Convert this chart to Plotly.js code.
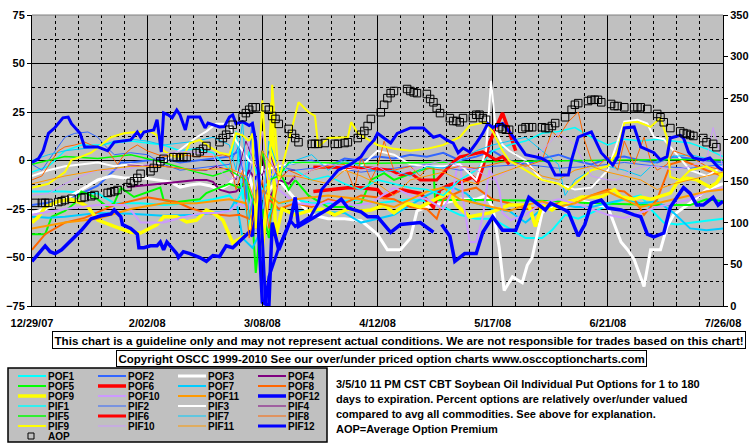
<!DOCTYPE html>
<html><head><meta charset="utf-8">
<script src="https://cdn.plot.ly/plotly-3.0.1.min.js"></script>
<style>html,body{margin:0;padding:0;background:#fff;}#chart{width:755px;height:446px;}</style>
</head><body><div id="chart"></div>
<script>
// ---------- DATA (day offset from 12/29/07, value) ----------
const startDate = [2007, 11, 29];
const xTickDays = [0, 35, 70, 105, 140, 175, 210];
const xTickLabels = ['12/29/07', '2/02/08', '3/08/08', '4/12/08', '5/17/08', '6/21/08', '7/26/08'];
const leftTicks = [-75, -50, -25, 0, 25, 50, 75];
const rightTicks = [0, 50, 100, 150, 200, 250, 300, 350];

const POF1 = [[0,-16],[10,-16],[20,-17],[25,-22],[33,-22],[40,-23],[48,-22],[55,-20],[60,-18],[62,-22],[64,-15],[66,-35],[68,-10],[70,-30],[72,-20],[76,-22],[80,-20],[85,-22],[90,-22],[95,-21],[100,-20],[105,-22],[110,-21],[115,-20],[120,-21],[125,-24],[130,-28],[135,-30],[140,-30],[145,-35],[150,-40],[155,-40],[158,-36],[162,-28],[166,-30],[170,-27],[175,-23],[180,-20],[185,-18],[188,-25],[192,-32],[196,-33],[200,-32],[205,-31],[210,-30]];
const POF2 = [[0,-23],[8,-21],[15,-17],[20,-13],[25,-5],[27,-1],[30,-1],[35,0],[40,1],[45,-1],[50,0],[55,1],[60,2],[63,5],[65,-20],[67,20],[70,-30],[73,-5],[78,-2],[85,0],[90,-3],[95,1],[100,0],[105,2],[110,1],[115,3],[120,2],[125,4],[130,0],[135,2],[140,5],[145,0],[150,-2],[155,1],[160,3],[165,0],[170,-2],[175,1],[180,2],[185,0],[190,-1],[195,2],[200,1],[205,0],[210,-1]];
const POF3 = [[0,-27],[4,-25],[8,-22],[12,-18],[16,-14],[20,-10],[24,-8],[28,-9],[34,-9],[38,-10],[42,-11],[45,-13.7],[48,-12.6],[51,-12],[54,-13],[57,-15],[60,-12],[63,-5],[66,-8],[68,-20],[70,-3],[72,-15],[75,-10],[80,-20],[85,-28],[90,-30],[95,-30],[100,-31],[105,-38],[108,-46],[112,-46],[115,-40],[117,-26],[120,-24],[125,-22],[130,-20],[135,-20],[138,-18],[140,-24],[142,-45],[143.5,-67],[146,-60],[149,-63],[150.5,-54],[152,-50],[155,-27],[157,-24],[162,-24],[165,-20],[170,-22],[175,-24],[179,-42],[181,-46],[183,-51],[186,-65],[188,-46],[191,-46],[193,-34],[195,-28],[200,-22],[205,-15],[210,-12]];
const POF4 = [[29,-13.7],[36,-12.6],[42,-11.5],[50,-10],[53,-10],[55,-11],[57,-15],[60,-16.5],[62,-16],[64,-13],[66,-5],[68,-10],[70,5],[72,-20],[75,-10],[78,-12],[80,-8]];
const POF5 = [[0,-38],[4,-38],[6,-29],[10,-26],[13,-22],[15,-16],[19,-18.8],[23,-24],[25,-22],[27,-14],[31,-18.8],[39,-14],[40,-20.4],[44,-21.4],[51,-20],[53,-16.8],[57,-14],[60,-12],[63,-14],[65,-11],[67,-30],[68,-58],[70,-25],[72,-40],[73,-20],[75,-5],[78,-15],[80,-10],[84,-18],[90,-24],[96,-24],[100,-22],[103,-10],[107,-6.5],[110,-10],[118,-5],[122,-3.4],[122.5,-20.4],[140,-20.4],[160,-21],[170,-22],[180,-22.5],[190,-23],[200,-23],[205,-20],[210,-21]];
const POF6 = [[85.5,-16],[90,-15],[96,-14],[100,-14],[105,-15],[107,-19],[112,-15],[118,-17],[122,-24],[124,-15],[127,-12.6],[132,-10],[134,-8.5],[135.5,-11],[137,-3.4],[139,9],[142,21],[143,24.5],[145,15],[147,5]];
const POF7 = [[0,-29],[5,-29.5],[10,-29],[15,-28],[20,-27],[30,-27.5],[40,-28.5],[50,-28],[55,-27],[60,-26],[62,-20],[64,-40],[67,-45],[70,-35],[73,-25],[78,-26],[85,-26],[95,-27],[100,-32],[105,-30],[110,-28],[115,-23],[120,-18],[125,-14],[128,-14],[132,-17],[135,-22],[140,-25],[145,-26],[150,-32],[155,-25],[160,-22],[165,-24],[170,-24],[175,-22],[180,-20],[185,-22],[190,-21],[195,-27],[200,-35],[205,-36],[210,-35]];
const POF8 = [[0,-46],[4,-38],[10,-32],[16,-29.6],[25,-23],[29,-21.4],[32,-20.4],[35,-19],[40,-20.4],[44,-21.4],[48,-24.5],[53,-27],[57,-28],[60,-28.5],[63,-28],[66,-30],[68,-15],[70,-45],[72,-20],[75,-25],[80,-22],[85,-24],[90,-20],[95,-22],[100,-18],[105,-19],[110,-20],[115,-24],[120,-25],[123,-30],[125,-20],[130,-16],[135,-14],[140,-20],[145,-22],[150,-25],[155,-24],[160,-22],[165,-20],[170,-18],[175,-15],[180,-16],[183,-20],[186,-28],[190,-20],[194,-2],[198,0],[205,-5],[210,-8]];
const POF9 = [[0,-32],[2,-29],[4,-24],[8,-21],[12,-20],[15,-22],[17,-24],[20,-30.7],[25,-34],[30,-37],[33,-37.4],[38,-33],[40,-29],[44,-29],[47,-31.7],[50,-30.7],[53,-25.5],[55,-27],[58,-30.7],[61,-42.5],[64,-39.4],[66,-37.4],[68,-20],[70,-45],[72,-10],[73,30],[74,-40],[76,-25],[80,-28],[84,-26],[88,-25],[92,-28],[96,-25],[100,-26],[103,-25.5],[107,-23],[110,-27],[114,-22],[118,-24],[122,-20.4],[127,-16.2],[129,-23],[133,-29],[139,-27],[145,-23],[151,-23],[153,-34],[155,-23],[158,-25.5],[161,-22],[165,-20.4],[167,-18.8],[173,-18.8],[177,-15],[179,-18.8],[183,-20],[185,-18.8],[188,-20],[194,-16.8],[196,-11.6],[199,-9],[202,-10],[206,-13.7],[208,-11.6],[210,-6.4]];
const POF10 = [[0,-28],[10,-25],[20,-23],[28,-23],[30,-25.5],[33,-32],[40,-32],[45,-29.6],[52,-27],[56,-27],[60,-26],[63,-22],[66,-25],[68,-8],[70,-20],[72,5],[75,-15],[80,-22],[87,-23],[90,-21],[98,-23],[103,-22],[110,-14],[115,-18],[120,-20],[125,-25],[128,-15],[130,5],[131,-20],[133,-42],[135,-42],[137,-29],[139,-5],[141,-10],[142,-15],[143,-27],[145.5,-30.7],[150,-28],[155,-22],[160,-20],[165,-22],[170,-25],[175,-28],[180,-29.6],[185,-27],[190,-24],[195,-22],[200,-20],[205,-16],[210,-14]];
const POF11 = [[0,-35],[10,-32],[20,-30],[30,-25],[40,-22],[50,-22],[60,-20],[65,-22],[68,-35],[70,-15],[75,-22],[80,-20],[90,-18],[100,-20],[105,-22],[110,-24],[115,-20],[120,-16],[125,-14],[130,-20],[135,-22],[140,-24],[145,-26],[150,-23],[155,-21],[160,-24],[165,-22],[170,-18],[175,-16],[180,-20],[185,-24],[190,-22],[195,-20],[200,-18],[205,-16],[210,-15]];
const POF12 = [[0,-52],[1,-50],[4,-44],[5.5,-47],[7,-48],[9,-46],[12,-41],[15,-36],[18,-30],[21,-28.5],[24,-27.5],[25,-25.5],[27,-29],[27.5,-33],[30,-35],[32,-38],[32.5,-45],[34,-45],[36,-44],[38,-44],[39,-42],[40,-46],[41,-42],[44,-48],[44.5,-50],[46,-47],[48,-48],[51,-50],[53,-52],[55,-49],[57,-49.5],[59,-44],[61,-45],[66,-37],[67,-39],[68,-8],[69,-40],[70,-73],[72,-75],[73,-32],[75,-46],[78.5,-31],[80,-19],[81,-34],[85,-30],[90,-25],[94,-20],[96,-24.5],[100,-26.5],[102,-29],[105,-29],[109,-37],[112,-33],[118,-32],[122,-37],[123,null],[124.5,-33],[127,-39],[128.5,-52],[131.5,-48],[135,-48],[137,-37],[140,-29],[143,-36],[147,-36],[151,-19],[156,-25.5],[157.6,-22],[162,-25.5],[163,-26.5],[166,-39],[168,-33],[170,-22],[173,-20.4],[175,-24.5],[179,-25.5],[183,-28],[185,-29],[187,-38],[189,-39.4],[192,-37.4],[194,-24],[198,-14],[200,-17],[202,-23],[204,-23],[207,-19],[208.5,-23],[210,-21]];

const PIF1 = [[0,-6],[5,-3],[10,5],[15,8],[20,8],[25,9],[30,10],[35,9],[40,8],[45,5],[50,6],[55,4],[60,-5],[62,15],[64,-20],[66,5],[70,-15],[75,-5],[80,-5],[85,-10],[90,-8],[95,-12],[100,-15],[105,-10],[110,-12],[115,-14],[120,-15],[125,-18],[130,-10],[135,-5],[140,5],[145,8],[150,10],[155,14],[160,15],[165,17],[170,12],[175,8],[180,11],[185,10],[190,11],[195,10],[200,9],[205,6],[210,2]];
const PIF2 = [[0,-2],[3,-5],[5,0],[8,7],[10,12],[13,14],[17,14.7],[20,12],[22,8],[25,3],[30,4],[35,3],[40,-2],[45,-5],[50,-4],[55,-3],[60,-2],[63,8],[65,-15],[68,5],[70,-20],[75,-3],[80,-5],[90,-3],[100,-6],[110,-4],[120,-2],[130,-5],[140,-3],[150,-2],[160,-4],[170,-3],[180,-1],[190,-3],[200,-4],[210,-2]];
const PIF3 = [[0,-8],[5,-5],[10,-3],[15,-2],[20,-1],[25,-3],[30,-2],[35,-3],[40,-1],[43,3],[47,8],[50,12],[53,15],[56,19],[60,19],[62,10],[66,0],[70,-5],[75,-3],[80,-1],[85,-1],[90,-2],[95,-5],[100,-3],[105,5],[110,3],[115,-2],[120,-3],[125,-3],[130,-2],[135,-10],[138,5],[139.5,41],[141,15],[143,8],[145,5],[150,0],[155,-10],[160,-12],[165,-15],[170,-14],[175,-5],[180,20],[184,21],[187,19],[189,12],[192,11],[195,5],[200,-5],[205,-8],[210,-3]];
const PIF4 = [[29,-2.3],[40,-3],[50,-5],[53,-5],[56,-3],[60,-5],[62,-10],[65,10],[68,-3],[70,-8],[72,5],[75,-10],[78,-5],[80,-5]];
const PIF5 = [[0,-2],[10,2],[20,1],[30,3],[40,-1],[50,-6],[55,-8],[60,-5],[65,-10],[68,-25],[70,5],[72,-10],[75,-8],[78,-1],[85,-1],[100,-1.5],[120,-1],[140,-0.5],[160,0],[180,0.3],[200,0.5],[210,0.3]];
const PIF6 = [[85.5,-3.4],[96,-3.9],[103,-3.9],[109,-5],[112,-7.5],[115,-6.5],[118,-10],[123,-10],[128,-0.8],[130,1.8],[137,4.4],[141,0.3],[143,2],[145,-2]];
const PIF7 = [[0,0],[5,3],[10,5],[15,6],[20,7],[25,10],[30,11],[35,10],[40,8],[45,9],[50,10],[55,12],[60,8],[62,-5],[64,20],[66,-30],[68,-10],[70,-25],[72,10],[75,-5],[80,0],[85,3],[90,-5],[95,0],[100,-3],[105,-6],[110,-5],[115,-8],[120,-3],[125,-4],[130,0],[135,5],[140,8],[145,10],[150,12],[155,5],[160,-2],[162,-18],[165,-10],[170,-5],[175,-3],[180,-5],[185,-8],[190,0],[195,2],[200,3],[205,1],[210,-3]];
const PIF8 = [[0,-10],[3,-8],[6,0],[8,5],[10,7],[13,8],[16,9.5],[18,8],[20,7],[23,5],[26,-2],[28,3],[30,6],[32,8],[35,5],[38,3],[40,2],[45,3],[50,2],[55,2],[58,3],[60,2],[62,-15],[64,-5],[66,-40],[68,-25],[70,-10],[72,-35],[75,-10],[78,-5],[82,-8],[85,-5],[90,-3],[95,-2],[98,-15],[100,2],[103,-10],[105,-3],[107,10],[110,-5],[115,-3],[118,-8],[120,-4],[125,-5],[130,-3],[135,-4],[140,-2],[145,0],[150,-3],[155,0],[158,15],[160,12],[163,20],[166,25],[168,10],[170,0],[172,-3],[175,2],[178,-5],[180,10],[183,-2],[186,12],[188,0],[190,-5],[193,-2],[195,5],[200,2],[205,-3],[210,-5]];
const PIF9 = [[0,-14],[5,-12],[10,-6],[12,0.3],[15,2],[18,4],[21,8],[24,12],[28,14],[32,14.7],[36,15],[38,13],[40,5],[43,2],[46,2],[48,9],[51,10.6],[54,7],[57,4],[60,3],[62,14],[64,13],[66,10],[67,14],[68,-35],[70,31],[72,-20],[73,39],[75,-10],[81,30],[84,25],[86,23],[87,7],[90,11.6],[96,12],[97,19.8],[99,14],[105,8],[110,6],[115,5],[120,6],[125,8],[130,12],[133,18],[138,19.8],[140,15],[143,5],[145,0],[150,-5],[155,-10],[160,-12],[163,-15],[165,-12],[170,-5],[175,-3],[178,5],[180,19.3],[184,20],[188,17.3],[191,22],[193,11.6],[194,-8.5],[197,-10],[200,-5],[205,-3],[210,-8]];
const PIF10 = [[0,-18],[5,-17],[10,-12],[15,-8],[20,-5],[25,-5],[30,-4],[35,-2],[40,3],[45,5],[50,4],[55,3],[57,-5],[60,-10],[63,-8],[66,10],[68,-15],[70,15],[72,-10],[75,0],[80,-10],[85,-5],[90,-2],[95,-3],[100,-5],[105,-3],[110,-8],[115,-5],[120,-2],[125,0],[130,-3],[135,-5],[140,-10],[145,-5],[150,0],[155,5],[160,14],[165,8],[170,-8],[175,-10],[178,-10],[182,-5],[186,-3],[190,-3],[195,-5],[200,-3],[205,0],[207,17],[209,5],[210,-5]];
const PIF11 = [[0,-12],[10,-8],[20,-5],[30,-3],[40,-3],[50,-5],[60,-4],[65,-8],[68,-22],[70,5],[75,-8],[80,-8],[85,-10],[90,-12],[95,-5],[100,-8],[105,-12],[110,-18],[115,-10],[120,-8],[125,-6],[130,-10],[135,-12],[140,-8],[145,-5],[150,-2],[155,-8],[160,-10],[165,-5],[170,-3],[175,-6],[180,-8],[185,-10],[190,-15],[195,-12],[200,-10],[205,-8],[210,-6]];
const PIF12 = [[0,-1],[2,1],[3.4,5],[5,14],[7,17],[9.4,22],[11,22.4],[12,19],[14.6,14],[16,7],[20,7],[21,6.4],[23,5],[25,9.5],[30,10.6],[32,14.7],[33,12],[34,14.7],[37,15.7],[38,21],[38.5,14.7],[39.3,4.4],[40,24.5],[41.4,23.5],[42.6,22],[44,26],[45,23.5],[46.6,15.7],[47.5,22.4],[51,22.4],[52.6,16.8],[53.5,19.3],[57,17.3],[58.5,17.5],[60,22.4],[61,23.5],[62,19],[64,20],[66,18],[67,19],[68,10],[69,-10],[70,-40],[71,-74],[72,-60],[75,-45],[78.5,-31],[80,-34],[84.6,-29],[87,-22],[88,-15],[91,-9],[93,-5],[96.8,-2],[100,2],[102,7],[104,10.6],[105,14],[109,9],[111,14],[115,16.8],[119,16.8],[122,12],[124,13],[126,10.6],[128,9],[129.5,4],[131,6.4],[133,4.4],[135,9],[137,14],[138.5,19],[140,17],[143,19],[145.5,14],[150,3],[154.6,1.3],[157,-0.8],[159,-7.5],[163,-7.5],[164,0.3],[166,12],[170,14.7],[173,4],[176.5,-2.3],[178,1.8],[180,16.8],[183,17.3],[185,7],[189,4],[191,0.3],[193,2],[194,11.6],[197,13],[198,11.6],[199.5,4.4],[201,1.3],[204,0.3],[206,1.3],[208.5,-3.4],[210,-5]];

const AOP = [[1,124],[3,124],[4,124],[5,124],[8,125],[9,126],[10,127.5],[12,129],[15,130],[16,131],[18,132],[19,133.5],[23,136],[24,137],[25,138],[26,139.5],[29,143],[30,148],[31,150],[32,154],[33,159],[36,162],[37,166],[38,171],[39,174],[40,177],[43,179],[44,179],[45,179],[46,179],[47,179],[50,184],[51,186],[52,189],[53,192.5],[57,197],[58,202],[59,206],[60,212],[61,218],[64,227],[65,232],[66,236],[67,239],[68,239],[71,239],[72,236],[73,228.5],[74,225],[75,219],[78,213],[79,207],[80,202],[81,197],[85,195],[86,195],[87,195],[89,196],[92,195],[93,195],[95,196],[96,197],[99,202],[100,206],[101,210.5],[102,216.5],[103,225],[106,233],[107,242],[108,250],[109,256],[110,258.6],[114,261],[115,258.6],[116,257],[117,256],[120,255],[121,249],[122,245],[123,238],[124,232],[127,226],[128,222.5],[129,222.5],[130,221],[131,226],[134,226],[135,230],[136,230],[137,226],[138,224],[142,215],[143,213],[144,212],[145,212],[149,213],[150,215],[151,215],[152,215],[155,215],[156,214],[157,214],[158,216.5],[159,220],[162,227],[164,236],[165,242],[166,244],[169,246.5],[170,248],[171,248],[172,248],[173,245],[176,243],[177,240.5],[178,240.5],[180,239],[183,239],[184,239],[185,239],[187,237],[190,231],[191,227],[192,221],[194,214],[197,210],[198,208],[199,207],[200,205.7],[201,204.5],[204,202],[205,197],[207,195],[208,191]];

const seriesNames = ['POF1','POF2','POF3','POF4','POF5','POF6','POF7','POF8','POF9','POF10','POF11','POF12',
                     'PIF1','PIF2','PIF3','PIF4','PIF5','PIF6','PIF7','PIF8','PIF9','PIF10','PIF11','PIF12'];
const seriesData = [POF1,POF2,POF3,POF4,POF5,POF6,POF7,POF8,POF9,POF10,POF11,POF12,
                    PIF1,PIF2,PIF3,PIF4,PIF5,PIF6,PIF7,PIF8,PIF9,PIF10,PIF11,PIF12];
const noteLines = ['3/5/10 11 PM CST CBT Soybean Oil Individual Put Options for 1 to 180',
                   'days to expiration. Percent options are relatively over/under valued',
                   'compared to avg all commodities. See above for explanation.',
                   'AOP=Average Option Premium'];
const disclaimer = 'This chart is a guideline only and may not represent actual conditions. We are not responsible for trades based on this chart!';
const copyright = 'Copyright OSCC 1999-2010 See our over/under priced option charts www.osccoptioncharts.com';

// ---------- STYLE ----------
const palette = ['#00FFFF','#3366FF','#FFFFFF','#800080','#00FF00','#FF0000','#00CCFF','#FF6600','#FFFF00','#CC99FF','#FF9900','#0000FF'];
const pofWidths = [2,2,3,2,2,3.5,2,2,3.5,2,2,3.5];
const pifWidths = [1.5,1,2,1,1.5,3,1,1,2,1,1,3];

const DAY = 86400000;
const T0 = Date.UTC(startDate[0], startDate[1], startDate[2]);
const toDate = d => new Date(T0 + d * DAY).toISOString().slice(0, 10);
const toDateX = d => new Date(T0 + d * DAY).toISOString().slice(0, 19).replace('T',' ');
const widthOf = i => i < 12 ? pofWidths[i] : pifWidths[i - 12];

const traces = seriesData.map((s, i) => ({
  type: 'scatter', mode: 'lines', name: seriesNames[i],
  x: s.map(p => toDateX(p[0])), y: s.map(p => p[1]),
  line: {color: palette[i % 12], width: widthOf(i)},
  connectgaps: false, showlegend: false, hoverinfo: 'skip'
}));
traces.push({
  type: 'scatter', mode: 'markers', name: 'AOP', yaxis: 'y2',
  x: AOP.map(p => toDateX(p[0])), y: AOP.map(p => p[1]),
  marker: {symbol: 'square-open', size: 7.5, color: '#000000', line: {width: 1, color: '#000000'}},
  showlegend: false, hoverinfo: 'skip'
});

// plot area in pixels
const P = {l: 32, r: 723, t: 15, b: 306};
const pxX = x => (x - P.l) / (P.r - P.l);
const pxY = y => (P.b - y) / (P.b - P.t);

const FONT = 'Liberation Sans, Arial, Helvetica, sans-serif';
const shapes = [
  {type: 'line', xref: 'paper', yref: 'paper', x0: 0, x1: 1, y0: 1, y1: 1, line: {color: '#808080', width: 1}, layer: 'above'},
  {type: 'rect', xref: 'paper', yref: 'paper', x0: pxX(8), x1: pxX(327), y0: pxY(368), y1: pxY(442),
   fillcolor: '#C0C0C0', line: {color: '#000000', width: 1.5}, layer: 'above'}
];
const annotations = [];
const legCols = [18, 98, 178, 258];
const legRow0 = 376, legRowStep = 10;
seriesNames.forEach((nm, i) => {
  const row = Math.floor(i / 4), col = i % 4;
  const y = legRow0 + legRowStep * row;
  shapes.push({type: 'line', xref: 'paper', yref: 'paper', x0: pxX(legCols[col]), x1: pxX(legCols[col] + 28),
    y0: pxY(y), y1: pxY(y), line: {color: palette[i % 12], width: widthOf(i)}, layer: 'above'});
  annotations.push({xref: 'paper', yref: 'paper', x: pxX(legCols[col] + 29), y: pxY(y + 0.5), xanchor: 'left', yanchor: 'middle',
    text: '<b>' + nm + '</b>', showarrow: false, borderpad: 0, font: {family: FONT, size: 10, color: '#000'}});
});
shapes.push({type: 'rect', xref: 'paper', yref: 'paper', x0: pxX(28), x1: pxX(34), y0: pxY(433), y1: pxY(439),
  line: {color: '#000', width: 1}, fillcolor: 'rgba(0,0,0,0)', layer: 'above'});
annotations.push({xref: 'paper', yref: 'paper', x: pxX(47), y: pxY(436.5), xanchor: 'left', yanchor: 'middle',
  text: '<b>AOP</b>', showarrow: false, borderpad: 0, font: {family: FONT, size: 10, color: '#000'}});

annotations.push({xref: 'paper', yref: 'paper', x: pxX(399), y: pxY(340), xanchor: 'center', yanchor: 'middle',
  text: '<b>' + disclaimer + '</b>',
  showarrow: false, font: {family: FONT, size: 11.6, color: '#000'}, bgcolor: '#FFFFFF', bordercolor: '#000', borderwidth: 1, borderpad: 1.5});
annotations.push({xref: 'paper', yref: 'paper', x: pxX(381), y: pxY(358.5), xanchor: 'center', yanchor: 'middle',
  text: '<b>' + copyright + '</b>',
  showarrow: false, font: {family: FONT, size: 11.5, color: '#000'}, bgcolor: '#FFFFFF', bordercolor: '#000', borderwidth: 1, borderpad: 1.5});
annotations.push({xref: 'paper', yref: 'paper', x: pxX(334), y: pxY(406), xanchor: 'left', yanchor: 'middle', align: 'left',
  text: noteLines.map(t => '<span style="font-size:11px"><b>' + t + '</b></span>').join('<br>'),
  showarrow: false, font: {family: FONT, size: 15 / 1.3, color: '#000'}});

const tickFont = {family: FONT, size: 11, color: '#000', weight: 'bold'};
const layout = {
  width: 755, height: 446,
  margin: {l: P.l, r: 755 - P.r, t: P.t, b: 446 - P.b, pad: 0},
  paper_bgcolor: '#FFFFFF', plot_bgcolor: '#C0C0C0',
  showlegend: false,
  xaxis: {
    type: 'date', range: [toDate(0), toDate(210)],
    tickmode: 'array', tickvals: xTickDays.map(toDate), ticktext: xTickLabels,
    tickfont: tickFont, showgrid: true, gridcolor: '#000', gridwidth: 1,
    ticks: 'inside', ticklen: 4, tickcolor: '#000', ticklabelstandoff: 7,
    showline: true, linecolor: '#000', linewidth: 1, zeroline: false, fixedrange: true,
    minor: {tickmode: 'linear', tick0: toDate(0), dtick: 7 * DAY, showgrid: true, gridcolor: '#000', gridwidth: 1,
            griddash: '3px,3px', ticks: 'inside', ticklen: 4, tickcolor: '#000'}
  },
  yaxis: {
    range: [-75, 75], tickmode: 'array', tickvals: leftTicks, tickfont: tickFont,
    showgrid: true, gridcolor: '#000', gridwidth: 1, zeroline: false,
    ticks: 'outside', ticklen: 4, tickcolor: '#000', showline: true, linecolor: '#000', linewidth: 1, fixedrange: true,
    minor: {tickmode: 'linear', tick0: 0, dtick: 12.5, showgrid: true, gridcolor: '#000', gridwidth: 1, griddash: '3px,3px'}
  },
  yaxis2: {
    overlaying: 'y', side: 'right', range: [0, 350], tickmode: 'array', tickvals: rightTicks, tickfont: tickFont,
    showgrid: false, zeroline: false, ticks: 'outside', ticklen: 4, tickcolor: '#000',
    showline: true, linecolor: '#000', linewidth: 1, fixedrange: true
  },
  shapes: shapes, annotations: annotations, hovermode: false
};
Plotly.newPlot('chart', traces, layout, {displayModeBar: false, staticPlot: true});
</script></body></html>
